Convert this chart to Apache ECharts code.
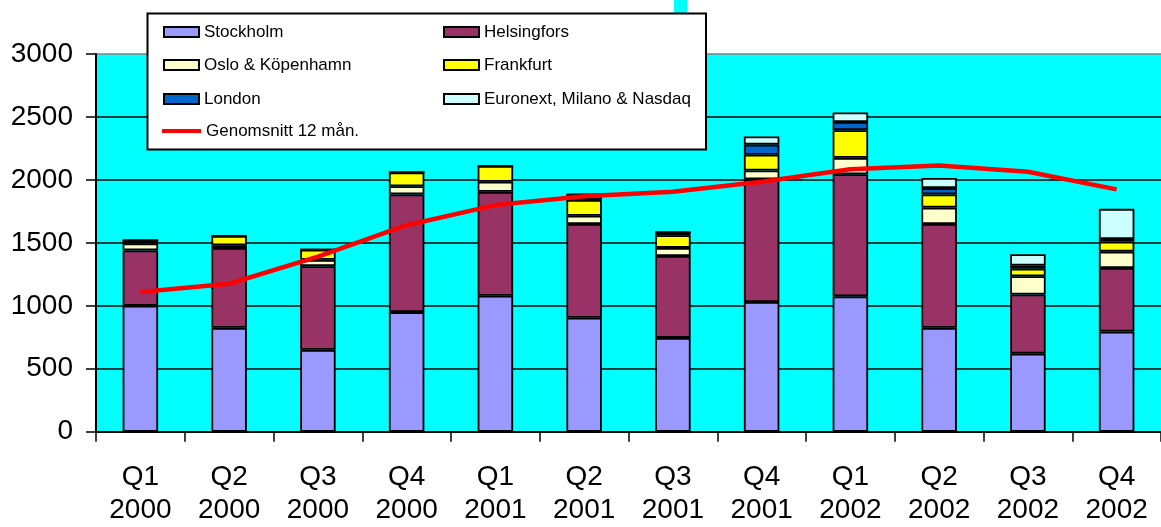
<!DOCTYPE html>
<html>
<head>
<meta charset="utf-8">
<script src="https://cdn.jsdelivr.net/npm/echarts@6/dist/echarts.min.js"></script>
<style>
  html, body { margin: 0; padding: 0; background: #ffffff; }
  #chart { width: 1161px; height: 527px; }
</style>
</head>
<body>
<div id="chart"></div>
<script>
// Quarterly turnover per market, stacked, with the 12-month average line
const quarters = ['Q1\n2000', 'Q2\n2000', 'Q3\n2000', 'Q4\n2000',
                  'Q1\n2001', 'Q2\n2001', 'Q3\n2001', 'Q4\n2001',
                  'Q1\n2002', 'Q2\n2002', 'Q3\n2002', 'Q4\n2002'];
const stockholm   = [1000, 825, 650, 950, 1080, 905, 745, 1030, 1075, 825, 620, 795];
const helsingfors = [440, 635, 665, 935, 825, 745, 650, 975, 970, 825, 470, 505];
const osloKph     = [55, 20, 50, 65, 80, 65, 65, 70, 130, 130, 145, 130];
const frankfurt   = [25, 75, 80, 110, 125, 125, 100, 125, 220, 105, 60, 80];
const london      = [0, 0, 0, 0, 0, 45, 25, 80, 65, 50, 25, 20];
const euronext    = [0, 0, 0, 0, 0, 0, 0, 65, 75, 80, 90, 240];
const avg12       = [1110, 1175, 1390, 1640, 1800, 1870, 1905, 1985, 2085, 2115, 2065, 1925];
const yTicks      = [0, 500, 1000, 1500, 2000, 2500, 3000];

const FONT = "'Liberation Sans', Arial, Helvetica, sans-serif";

const barSeries = [
  ['Stockholm', stockholm, '#9999FF'],
  ['Helsingfors', helsingfors, '#993366'],
  ['Oslo & Köpenhamn', osloKph, '#FFFFCC'],
  ['Frankfurt', frankfurt, '#FFFF00'],
  ['London', london, '#0066CC'],
  ['Euronext, Milano & Nasdaq', euronext, '#CCFFFF']
].map(([name, data, color]) => ({
  name: name,
  type: 'bar',
  stack: 'total',
  barWidth: '40%',
  data: data,
  itemStyle: { color: color, borderColor: '#000000', borderWidth: 1.8 },
  emphasis: { disabled: true }
}));

const lineSeries = {
  name: 'Genomsnitt 12 mån.',
  type: 'line',
  data: avg12,
  symbol: 'none',
  z: 5,
  lineStyle: { color: '#FF0000', width: 4.5 },
  itemStyle: { color: '#FF0000' },
  emphasis: { disabled: true }
};

// legend entries laid out in two columns inside a framed box
const legendSlots = [
  ['Stockholm', 163, 32, 'box'],
  ['Helsingfors', 443, 32, 'box'],
  ['Oslo & Köpenhamn', 163, 65, 'box'],
  ['Frankfurt', 443, 65, 'box'],
  ['London', 163, 99, 'box'],
  ['Euronext, Milano & Nasdaq', 443, 99, 'box'],
  ['Genomsnitt 12 mån.', 162, 131, 'stroke']
];
const legends = legendSlots.map(([name, x, cy, kind]) => {
  const isStroke = kind === 'stroke';
  const lg = {
    data: [{ name: name, icon: 'rect' }],
    left: x,
    top: cy - 9,
    padding: 0,
    itemWidth: isStroke ? 39 : 35,
    itemHeight: isStroke ? 4 : 10,
    z: 20,
    selectedMode: false,
    textStyle: { fontFamily: FONT, fontSize: 17, color: '#000000', lineHeight: 18 }
  };
  if (isStroke) lg.itemStyle = { color: '#FF0000', borderWidth: 0 };
  return lg;
});

const chart = echarts.init(document.getElementById('chart'), null, { renderer: 'canvas' });
chart.setOption({
  animation: false,
  backgroundColor: '#ffffff',
  textStyle: { fontFamily: FONT },
  grid: {
    left: 96, top: 54, width: 1074, height: 377.7,
    show: true, backgroundColor: '#00FFFF', borderWidth: 0,
    containLabel: false
  },
  legend: legends,
  graphic: [
    { type: 'rect', z: 15, shape: { x: 674, y: 0, width: 13, height: 14 },
      style: { fill: '#00FFFF' } },
    { type: 'rect', z: 15, shape: { x: 147.5, y: 13.5, width: 558.5, height: 136 },
      style: { fill: '#ffffff', stroke: '#000000', lineWidth: 2 } }
  ],
  xAxis: {
    type: 'category',
    data: quarters,
    axisLine: { lineStyle: { color: '#000000', width: 2 } },
    axisTick: { show: true, length: 10, lineStyle: { color: '#000000', width: 1.5 } },
    axisLabel: { fontFamily: FONT, fontSize: 28, color: '#000000', lineHeight: 33, margin: 29 }
  },
  yAxis: {
    type: 'value',
    min: yTicks[0],
    max: yTicks[yTicks.length - 1],
    interval: 500,
    axisLine: { show: true, lineStyle: { color: '#000000', width: 2 } },
    axisTick: { show: true, length: 10, lineStyle: { color: '#000000', width: 1.5 } },
    axisLabel: { fontFamily: FONT, fontSize: 28, color: '#000000', margin: 23,
                 formatter: (v) => String(v) },
    splitLine: {
      show: true,
      lineStyle: {
        color: ['#000000', '#000000', '#000000', '#000000', '#000000', '#000000', '#808080'],
        width: 1.6
      }
    }
  },
  series: barSeries.concat([lineSeries])
});
</script>
</body>
</html>
